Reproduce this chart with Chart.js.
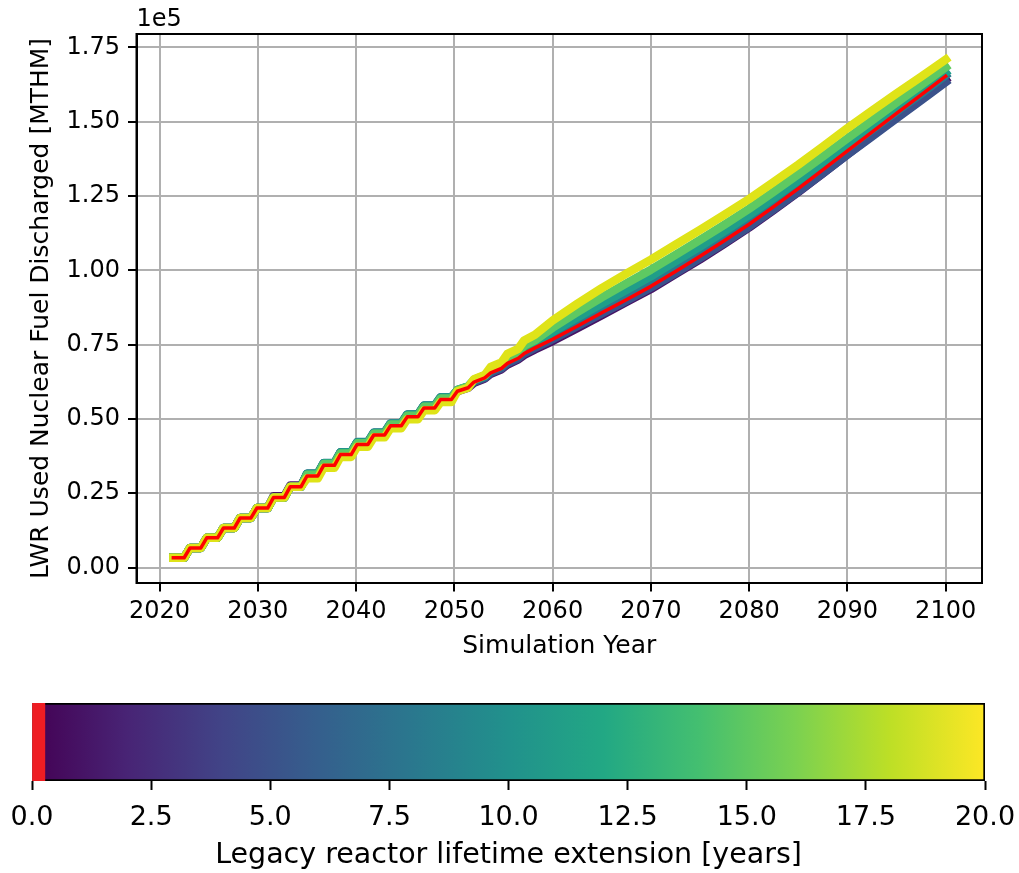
<!DOCTYPE html>
<html>
<head>
<meta charset="utf-8">
<script src="https://cdn.jsdelivr.net/npm/chart.js@4.4.1/dist/chart.umd.min.js"></script>
<style>
  body { margin: 0; background: #fff; }
  canvas { display: block; }
</style>
</head>
<body>
<canvas id="fuelChart" width="1019" height="683"></canvas>
<canvas id="colorBar" width="1019" height="190"></canvas>
<script>
// Simulation years (refuelling steps early on, then every 2.5 years)
const years = [
  2021.4, 2022.5, 2023.1, 2024.2, 2024.8, 2025.9, 2026.5, 2027.6, 2028.2, 2029.3,
  2029.9, 2031.0, 2031.6, 2032.7, 2033.3, 2034.4, 2035.0, 2036.1, 2036.7, 2037.8,
  2038.4, 2039.5, 2040.1, 2041.2, 2041.8, 2042.9, 2043.5, 2044.6, 2045.2, 2046.3,
  2046.9, 2048.0, 2048.6, 2049.7, 2050.3, 2051.4, 2052.0, 2053.1, 2053.7, 2054.8,
  2055.4, 2056.5, 2057.1, 2058.2,
  2060, 2062.5, 2065, 2067.5, 2070, 2072.5, 2075, 2077.5, 2080, 2082.5,
  2085, 2087.5, 2090, 2092.5, 2095, 2097.5, 2100
];

// Cumulative LWR fuel discharged [MTHM], no lifetime extension (red)
const baseline = [
  3300, 3300, 6600, 6600, 10000, 10000, 13300, 13300, 16700, 16700,
  20000, 20000, 23600, 23600, 27200, 27200, 30800, 30800, 34400, 34400,
  38000, 38000, 41400, 41400, 44600, 44600, 47700, 47700, 50700, 50700,
  53700, 53700, 56500, 56500, 59300, 60500, 62400, 63800, 65500, 67000,
  68700, 70400, 72000, 73900,
  76800, 81200, 85700, 90100, 94600, 99600, 104700, 110000, 115500, 121400,
  127500, 133800, 140200, 146500, 152800, 159000, 165300
];

// Runs with the legacy fleet lifetime extended (ext19 = 19 extra years, ...)
const ext1 = [
  3300, 3300, 6600, 6600, 10000, 10000, 13300, 13300, 16700, 16700,
  20000, 20000, 24000, 24000, 27600, 27600, 31300, 31300, 34900, 34900,
  38500, 38500, 41900, 41900, 45100, 45100, 48200, 48200, 51200, 51200,
  54200, 54200, 57000, 57000, 59300, 60500, 62200, 63600, 65200, 66700,
  68300, 70000, 71500, 73400,
  76200, 80500, 84900, 89300, 93700, 98700, 103700, 109000, 114400, 120300,
  126300, 132600, 139000, 145300, 151600, 157800, 164100
];
const ext5 = [
  3300, 3300, 6600, 6600, 10000, 10000, 13300, 13300, 16700, 16700,
  20000, 20000, 23600, 23600, 27200, 27200, 31500, 31500, 35100, 35100,
  38700, 38700, 42100, 42100, 45300, 45300, 48400, 48400, 51400, 51400,
  54400, 54400, 57200, 57200, 59500, 60700, 62400, 63800, 65500, 67000,
  68700, 70400, 72000, 73900,
  76800, 81200, 85500, 89800, 94200, 99100, 104100, 109300, 114700, 120500,
  126500, 132600, 138900, 145000, 151100, 157200, 163300
];
const ext8 = [
  3300, 3300, 6600, 6600, 10000, 10000, 13300, 13300, 16700, 16700,
  20000, 20000, 23600, 23600, 27200, 27200, 31600, 31600, 35200, 35200,
  38800, 38800, 42200, 42200, 45400, 45400, 48500, 48500, 51500, 51500,
  54500, 54500, 57300, 57300, 59700, 60900, 62800, 64200, 66100, 67600,
  69500, 71200, 73000, 74900,
  78100, 82700, 87300, 91800, 96300, 101300, 106300, 111500, 116900, 122700,
  128700, 134900, 141200, 147300, 153400, 159400, 165600
];
const ext11 = [
  3300, 3300, 6600, 6600, 10000, 10000, 13300, 13300, 16700, 16700,
  20000, 20000, 23600, 23600, 27200, 27200, 31500, 31500, 35100, 35100,
  38700, 38700, 42100, 42100, 45300, 45300, 48400, 48400, 51400, 51400,
  54400, 54400, 57200, 57200, 59700, 60900, 63100, 64500, 66500, 68000,
  70100, 71800, 73800, 75700,
  79300, 84100, 88800, 93400, 98000, 103000, 108000, 113200, 118600, 124300,
  130200, 136300, 142500, 148500, 154500, 160400, 166500
];
const ext15 = [
  3300, 3300, 6600, 6600, 10000, 10000, 13300, 13300, 16700, 16700,
  20000, 20000, 23600, 23600, 27200, 27200, 31200, 31200, 34800, 34800,
  38400, 38400, 41800, 41800, 45000, 45000, 48100, 48100, 51100, 51100,
  54100, 54100, 56900, 56900, 59700, 60900, 63200, 64600, 66800, 68300,
  70600, 72300, 74600, 76500,
  80700, 85900, 90900, 95600, 100200, 105200, 110200, 115400, 120700, 126400,
  132300, 138300, 144400, 150400, 156400, 162300, 168300
];
const ext19 = [
  3300, 3300, 6600, 6600, 10000, 10000, 13300, 13300, 16700, 16700,
  20000, 20000, 23600, 23600, 27200, 27200, 30000, 30000, 33600, 33600,
  37200, 37200, 40600, 40600, 43800, 43800, 46900, 46900, 49900, 49900,
  52900, 52900, 55700, 55700, 59300, 60500, 63400, 64800, 67500, 69000,
  71900, 73600, 76400, 78300,
  83100, 88700, 94000, 98900, 103600, 108600, 113600, 118700, 124000, 129700,
  135500, 141600, 147800, 153700, 159500, 165100, 170900
];

// Axis ticks
const xTicks = [2020, 2030, 2040, 2050, 2060, 2070, 2080, 2090, 2100];
const yTicks = [0, 25000, 50000, 75000, 100000, 125000, 150000, 175000];

// Colour bar range [years] and the red band for the no-extension case
const extensionRange = [0, 20];
const baselineBand = [0, 0.27];
const barTicks = [0, 2.5, 5, 7.5, 10, 12.5, 15, 17.5, 20];
const viridis = ['#440154', '#482475', '#414487', '#355f8d', '#2a788e', '#21918c',
                 '#22a884', '#44bf70', '#7ad151', '#bddf26', '#fde725'];

const FONT = 'DejaVu Sans';

function series(values, color, width) {
  return {
    data: values.map((v, i) => ({ x: years[i], y: v })),
    borderColor: color,
    borderWidth: width,
    pointRadius: 0,
    tension: 0,
    borderJoinStyle: 'round',
    borderCapStyle: 'square'
  };
}

const fixedTicks = list => scale => { scale.ticks = list.map(v => ({ value: v })); };

// Box around the axes plus the 1e5 offset label
const frame = {
  id: 'frame',
  afterDraw(chart) {
    const { ctx, chartArea: a } = chart;
    ctx.save();
    ctx.strokeStyle = '#000';
    ctx.lineWidth = 2;
    ctx.strokeRect(a.left, a.top, a.right - a.left, a.bottom - a.top);
    ctx.fillStyle = '#000';
    ctx.font = `24px "${FONT}"`;
    ctx.textBaseline = 'alphabetic';
    ctx.fillText('1e5', a.left, a.top - 8);
    ctx.restore();
  }
};

// First dataset is drawn on top: red, then yellow down to purple
new Chart(document.getElementById('fuelChart'), {
  type: 'line',
  data: {
    datasets: [
      series(baseline, '#ff0000', 3.5),
      series(ext19, '#dfe318', 8.5),
      series(ext15, '#5ec962', 8.5),
      series(ext11, '#1f9e89', 8.5),
      series(ext8, '#2a788e', 8.5),
      series(ext5, '#3b528b', 8.5),
      series(ext1, '#471365', 8.5)
    ]
  },
  options: {
    responsive: false,
    animation: false,
    devicePixelRatio: 1,
    layout: { padding: { top: 34, right: 37, left: 0, bottom: 0 } },
    plugins: { legend: { display: false }, tooltip: { enabled: false } },
    scales: {
      x: {
        type: 'linear',
        min: 2017.65,
        max: 2103.7,
        afterBuildTicks: fixedTicks(xTicks),
        afterFit: s => { s.height = 100; },
        ticks: {
          color: '#000', padding: 6,
          font: { family: FONT, size: 24 },
          callback: v => String(v)
        },
        grid: { color: '#b0b0b0', lineWidth: 2, tickColor: '#000', tickWidth: 2, tickLength: 8.5 },
        border: { color: '#000', width: 2 },
        title: {
          display: true, text: 'Simulation Year', color: '#000',
          font: { family: FONT, size: 25 }, padding: { bottom: 22 }
        }
      },
      y: {
        min: -5200,
        max: 179500,
        afterBuildTicks: fixedTicks(yTicks),
        afterFit: s => { s.width = 136.5; },
        ticks: {
          color: '#000', padding: 8,
          font: { family: FONT, size: 24 },
          callback: v => (v / 1e5).toFixed(2)
        },
        grid: { color: '#b0b0b0', lineWidth: 2, tickColor: '#000', tickWidth: 2, tickLength: 8.5 },
        border: { color: '#000', width: 2 },
        title: {
          display: true, text: 'LWR Used Nuclear Fuel Discharged [MTHM]', color: '#000',
          font: { family: FONT, size: 25 }, padding: { top: 26 }
        }
      }
    }
  },
  plugins: [frame]
});

// Colour bar: viridis over the extension range, red band at zero
function viridisFill(c) {
  const chart = c.chart;
  if (!chart.chartArea) return viridis[5];
  const x = chart.scales.x;
  const g = chart.ctx.createLinearGradient(
    x.getPixelForValue(extensionRange[0]), 0, x.getPixelForValue(extensionRange[1]), 0);
  viridis.forEach((col, i) => g.addColorStop(i / (viridis.length - 1), col));
  return g;
}

new Chart(document.getElementById('colorBar'), {
  type: 'bar',
  data: {
    labels: [''],
    datasets: [
      {
        data: [baselineBand], backgroundColor: '#ee1d23',
        grouped: false, barPercentage: 1, categoryPercentage: 1
      },
      {
        data: [extensionRange], backgroundColor: viridisFill,
        borderColor: '#000', borderWidth: 2, borderSkipped: false,
        grouped: false, barPercentage: 1, categoryPercentage: 1
      }
    ]
  },
  options: {
    indexAxis: 'y',
    responsive: false,
    animation: false,
    devicePixelRatio: 1,
    layout: { padding: { top: 20, right: 34, left: 32, bottom: 0 } },
    plugins: { legend: { display: false }, tooltip: { enabled: false } },
    scales: {
      x: {
        type: 'linear',
        min: extensionRange[0],
        max: extensionRange[1],
        afterBuildTicks: fixedTicks(barTicks),
        afterFit: s => { s.height = 92; s.paddingLeft = 0; s.paddingRight = 0; },
        ticks: {
          color: '#000', padding: 12,
          font: { family: FONT, size: 27 },
          callback: v => v.toFixed(1)
        },
        grid: { drawOnChartArea: false, tickColor: '#000', tickWidth: 2, tickLength: 9 },
        border: { display: false },
        title: {
          display: true, text: 'Legacy reactor lifetime extension [years]', color: '#000',
          font: { family: FONT, size: 28.5 }, padding: { bottom: 0 }
        }
      },
      y: { display: false }
    }
  }
});
</script>
</body>
</html>
